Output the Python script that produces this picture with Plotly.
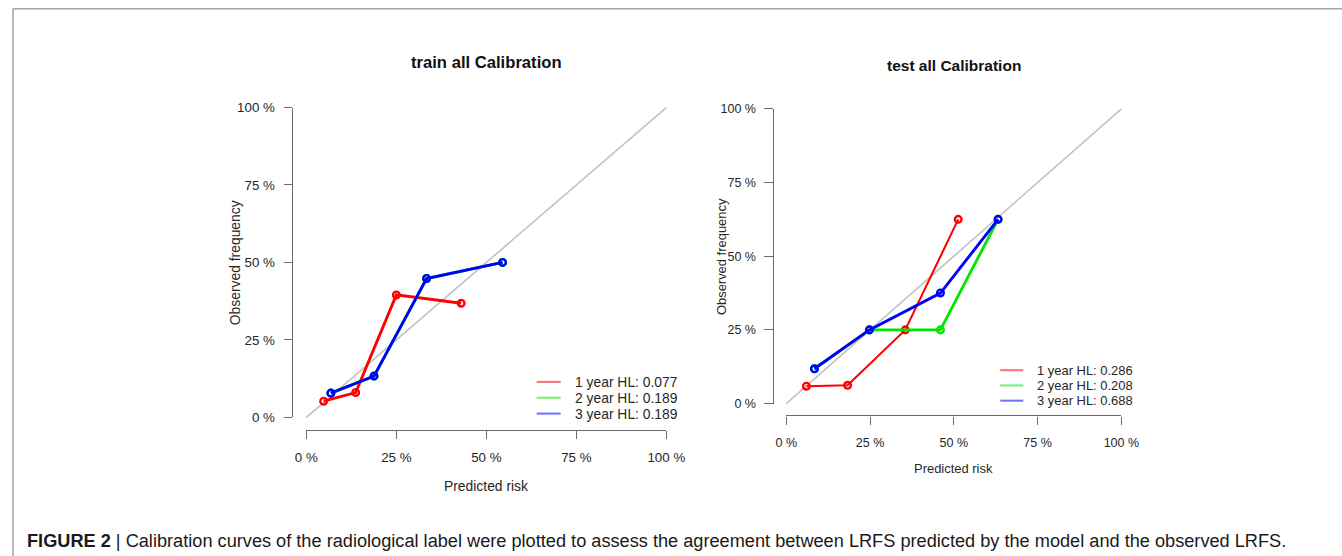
import plotly.graph_objects as go

# ---- calibration data (predicted risk vs observed frequency) ----
train_pred_1y = [0.048, 0.137, 0.250, 0.430]
train_obs_1y = [0.052, 0.080, 0.395, 0.368]
train_pred_2y = [0.068, 0.188, 0.334, 0.545]
train_obs_2y = [0.078, 0.133, 0.448, 0.500]
train_pred_3y = [0.068, 0.188, 0.334, 0.545]
train_obs_3y = [0.078, 0.133, 0.448, 0.500]

test_pred_1y = [0.060, 0.183, 0.355, 0.513]
test_obs_1y = [0.059, 0.062, 0.250, 0.625]
test_pred_2y = [0.084, 0.248, 0.460, 0.632]
test_obs_2y = [0.118, 0.250, 0.250, 0.625]
test_pred_3y = [0.084, 0.248, 0.460, 0.632]
test_obs_3y = [0.118, 0.250, 0.375, 0.625]

train_labels = ["1 year HL: 0.077", "2 year HL: 0.189", "3 year HL: 0.189"]
test_labels = ["1 year HL: 0.286", "2 year HL: 0.208", "3 year HL: 0.688"]
series_colors = ["#ff0000", "#00e600", "#0000ff"]

tick_vals = [0, 0.25, 0.5, 0.75, 1.0]
tick_text = ["0 %", "25 %", "50 %", "75 %", "100 %"]

caption_head = "FIGURE 2"
caption_body = ("Calibration curves of the radiological label were plotted to assess the "
                "agreement between LRFS predicted by the model and the observed LRFS.")

# canvas size and the page-pixel grid used to place elements below
CANVAS_W, CANVAS_H = 1362, 566
SX, SY = 0.976, 0.971     # page pixels per canvas pixel
OX, OY = 11.0, 6.75       # page offset of the canvas origin
FONT = "Liberation Sans, Arial, sans-serif"
AXIS_COL = "#6a6a6a"
TEXT_COL = "#262626"


def fx(px):
    """page x pixel -> paper fraction"""
    return (px - OX) / SX / CANVAS_W


def fy(py):
    """page y pixel -> paper fraction"""
    return 1 - (py - OY) / SY / CANVAS_H


def sz(v):
    """page pixel length -> canvas pixel length"""
    return v / ((SX + SY) / 2)


# panel geometry: page pixel position of the 0 and 1 data values on each axis
panels = [
    dict(name="train all Calibration", x0=305.0, x1=664.5, y0=416.0, y1=107.0,
         data=[(train_pred_1y, train_obs_1y, 2.8), (train_pred_2y, train_obs_2y, 2.8),
               (train_pred_3y, train_obs_3y, 2.8)],
         labels=train_labels, font=13.5, tickfont=13, title_font=16.2,
         title_y=62.5, xlab_y=484.5, ylab_x=234.5,
         leg_line=(535, 559), leg_text_x=571.5, leg_rows=[380.7, 396.5, 412.3]),
    dict(name="test all Calibration", x0=784.3, x1=1119.0, y0=402.3, y1=108.3,
         data=[(test_pred_1y, test_obs_1y, 2.0), (test_pred_2y, test_obs_2y, 2.8),
               (test_pred_3y, test_obs_3y, 2.8)],
         labels=test_labels, font=12.6, tickfont=12.2, title_font=15.1,
         title_y=65.5, xlab_y=467.5, ylab_x=719.0,
         leg_line=(998, 1021), leg_text_x=1032.5, leg_rows=[369.0, 384.2, 399.4]),
]

fig = go.Figure()
layout = dict(width=CANVAS_W, height=CANVAS_H, margin=dict(l=0, r=0, t=0, b=0),
              paper_bgcolor="white", plot_bgcolor="rgba(0,0,0,0)",
              showlegend=False, font=dict(family=FONT, color=TEXT_COL))
annotations = []
shapes = []

for i, p in enumerate(panels):
    n = i + 1
    dx = "x" if n == 1 else f"x{n}"
    dy = "y" if n == 1 else f"y{n}"
    ax_n = n + 2  # display axes
    vx, vy = f"x{ax_n}", f"y{ax_n}"

    w = p["x1"] - p["x0"]
    h = p["y0"] - p["y1"]
    left = p["x0"] - 0.04 * w
    right = p["x1"] + 0.04 * w
    bottom = p["y0"] + 0.04 * h
    top = p["y1"] - 0.04 * h

    # data axes: range padded by 4 % like base-R graphics
    hidden = dict(range=[-0.04, 1.04], visible=False, fixedrange=True)
    layout["xaxis" if n == 1 else f"xaxis{n}"] = dict(hidden, domain=[fx(left), fx(right)], anchor=dy)
    layout["yaxis" if n == 1 else f"yaxis{n}"] = dict(hidden, domain=[fy(bottom), fy(top)], anchor=dx)

    # visible axes spanning 0..1 only, placed at the plot-region edge
    common = dict(range=[0, 1], tickvals=tick_vals, ticktext=tick_text, ticks="outside",
                  ticklen=sz(8), tickwidth=sz(1.3), tickcolor=AXIS_COL, showline=True,
                  linecolor=AXIS_COL, linewidth=sz(1.3), showgrid=False, zeroline=False,
                  tickfont=dict(size=sz(p["tickfont"]), color=TEXT_COL, family=FONT),
                  anchor="free", fixedrange=True)
    layout[f"xaxis{ax_n}"] = dict(common, domain=[fx(p["x0"]), fx(p["x1"])],
                                  position=fy(bottom), side="bottom",
                                  ticklabelstandoff=round(sz(7)))
    layout[f"yaxis{ax_n}"] = dict(common, domain=[fy(p["y0"]), fy(p["y1"])],
                                  position=fx(left), side="left",
                                  ticklabelstandoff=round(sz(6)))
    fig.add_trace(go.Scatter(x=[], y=[], xaxis=vx, yaxis=vy, hoverinfo="skip"))

    # ideal calibration diagonal
    fig.add_trace(go.Scatter(x=[0, 1], y=[0, 1], mode="lines", xaxis=dx, yaxis=dy,
                             line=dict(color="#c2c2c2", width=sz(1.6)), hoverinfo="skip"))

    for (xs, ys, lw), col, lab in zip(p["data"], series_colors, p["labels"]):
        fig.add_trace(go.Scatter(
            x=xs, y=ys, mode="lines+markers", xaxis=dx, yaxis=dy, name=lab,
            line=dict(color=col, width=sz(lw)),
            marker=dict(symbol="circle-open", size=sz(6.5), color=col,
                        line=dict(width=sz(2.3), color=col)),
        ))

    cx = (p["x0"] + p["x1"]) / 2
    annotations.append(dict(text=f"<b>{p['name']}</b>", x=fx(cx), y=fy(p["title_y"]),
                            xref="paper", yref="paper", showarrow=False,
                            font=dict(size=sz(p["title_font"]), color="#111111", family=FONT),
                            xanchor="center", yanchor="middle"))
    annotations.append(dict(text="Predicted risk", x=fx(cx), y=fy(p["xlab_y"]),
                            xref="paper", yref="paper", showarrow=False,
                            font=dict(size=sz(p["font"]), color=TEXT_COL, family=FONT),
                            xanchor="center", yanchor="middle"))
    annotations.append(dict(text="Observed frequency", x=fx(p["ylab_x"]),
                            y=fy((p["y0"] + p["y1"]) / 2), xref="paper", yref="paper",
                            showarrow=False, textangle=-90,
                            font=dict(size=sz(p["font"]), color=TEXT_COL, family=FONT),
                            xanchor="center", yanchor="middle"))

    # legend: line samples and labels
    for row_y, col, lab in zip(p["leg_rows"], series_colors, p["labels"]):
        shapes.append(dict(type="line", xref="paper", yref="paper",
                           x0=fx(p["leg_line"][0]), x1=fx(p["leg_line"][1]),
                           y0=fy(row_y), y1=fy(row_y), opacity=0.55,
                           line=dict(color=col, width=sz(2))))
        annotations.append(dict(text=lab, x=fx(p["leg_text_x"]), y=fy(row_y),
                                xref="paper", yref="paper", showarrow=False,
                                font=dict(size=sz(p["font"]), color=TEXT_COL, family=FONT),
                                xanchor="left", yanchor="middle"))

# frame around the figure panel
frame_x = max(fx(9), 1.0 / CANVAS_W)
frame_y = fy(8.5)
shapes.append(dict(type="line", xref="paper", yref="paper", x0=frame_x, x1=1.0,
                   y0=frame_y, y1=frame_y, line=dict(color="#a6a6a6", width=sz(1.5))))
shapes.append(dict(type="line", xref="paper", yref="paper", x0=frame_x, x1=frame_x,
                   y0=frame_y, y1=0.0, line=dict(color="#a6a6a6", width=sz(1.5))))

# figure caption
annotations.append(dict(text=f"<b>{caption_head}</b> | {caption_body}", x=fx(24), y=fy(539),
                        xref="paper", yref="paper", showarrow=False,
                        font=dict(size=sz(17.7), color="#1a1a1a", family=FONT),
                        xanchor="left", yanchor="middle"))

layout["annotations"] = annotations
layout["shapes"] = shapes
fig.update_layout(**layout)
fig.write_html("out.html")
